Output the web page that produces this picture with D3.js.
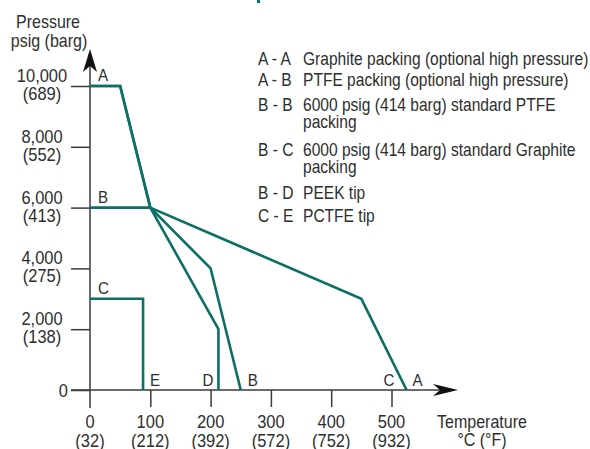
<!DOCTYPE html>
<html><head><meta charset="utf-8">
<script src="https://cdn.jsdelivr.net/npm/d3@7"></script>
<style>
body{margin:0;background:#fff;}
text{font-family:"Liberation Sans",Arial,sans-serif;fill:#2e2e2e;}
</style></head>
<body><svg id="c" width="590" height="449"></svg>
<script>
// ---- data ----
const xTicks = [0,100,200,300,400,500];
const xTickLabels = ["(32)","(212)","(392)","(572)","(752)","(932)"];
const yTicks = [0,2000,4000,6000,8000,10000];
const yTickLabels = ["","(138)","(275)","(413)","(552)","(689)"];
const curveAA = [[0,10000],[50,10000],[100,6000],[450,3000],[525,0]];
const curveAB = [[0,10000],[50,10000],[100,6000]];
const curveBB = [[0,6000],[100,6000],[200,4000],[250,0]];
const curveBD = [[100,6000],[213,2000],[213,0]];
const curveCE = [[0,3000],[88,3000],[88,0]];
const pointLabels = [
  {t:"A",x:0,y:10000,dx:8,dy:-5},{t:"B",x:0,y:6000,dx:8,dy:-5},{t:"C",x:0,y:3000,dx:8,dy:-5},
  {t:"E",x:88,y:0,dx:7,dy:-4},{t:"D",x:213,y:0,dx:-16,dy:-4},{t:"B",x:250,y:0,dx:7,dy:-4},
  {t:"C",x:525,y:0,dx:-23,dy:-4},{t:"A",x:525,y:0,dx:6,dy:-4}
];
const legendCodes = ["A - A","A - B","B - B","","B - C","","B - D","C - E"];
const legendTexts = ["Graphite packing (optional high pressure)","PTFE packing (optional high pressure)",
  "6000 psig (414 barg) standard PTFE","packing","6000 psig (414 barg) standard Graphite","packing","PEEK tip","PCTFE tip"];
const legendBaselines = [65,86,111,128,156,173,199,222];

const svg = d3.select("#c");
const x = d3.scaleLinear().domain([0,500]).range([90,391.5]);
const y = d3.scaleLinear().domain([0,10000]).range([390,86]);
const green = "#0b6f63", axc = "#3a3a3a";
const SX = 0.89;
function txt(px, py, s, size, anchor){
  return svg.append("text").attr("transform",`translate(${px},${py}) scale(${SX},1)`)
    .attr("text-anchor",anchor||"start").attr("font-size",size).text(s);
}

// partial title fragment at top
svg.append("rect").attr("x",257).attr("y",0).attr("width",3).attr("height",3).attr("fill",green);

// y ticks
const ya = d3.axisLeft(y).tickValues(yTicks).tickSize(19).tickFormat("");
const gy = svg.append("g").attr("transform","translate(90,0)").call(ya);
gy.select(".domain").remove();
gy.selectAll("line").attr("stroke",axc).attr("stroke-width",1.5);
// x ticks
const xa = d3.axisBottom(x).tickValues(xTicks.slice(1)).tickSize(17).tickFormat("");
const gx = svg.append("g").attr("transform","translate(0,390)").call(xa);
gx.select(".domain").remove();
gx.selectAll("line").attr("stroke",axc).attr("stroke-width",1.5);

// axis lines
svg.append("line").attr("x1",90).attr("y1",408).attr("x2",90).attr("y2",62).attr("stroke",axc).attr("stroke-width",1.5);
svg.append("line").attr("x1",71).attr("y1",390).attr("x2",445).attr("y2",390).attr("stroke",axc).attr("stroke-width",1.5);
svg.append("path").attr("d","M90,49 L97,72 L90,66 L83,72 Z").attr("fill","#111");
svg.append("path").attr("d","M458,390 L433,384 L440,390 L433,396 Z").attr("fill","#111");

// curves
const line = d3.line().x(d=>x(d[0])).y(d=>y(d[1]));
[curveAA,curveAB,curveBB,curveBD,curveCE].forEach(c=>{
  svg.append("path").attr("d",line(c)).attr("fill","none").attr("stroke",green)
    .attr("stroke-width",2.6).attr("stroke-linejoin","miter");
});

// y labels
yTicks.forEach((v,i)=>{
  if(v===0){
    txt(68, y(v)+7, "0", 18.5, "end");
  } else {
    txt(42, y(v)-4, d3.format(",")(v), 18.5, "middle");
    txt(42, y(v)+14, yTickLabels[i], 18.5, "middle");
  }
});
// x labels
xTicks.forEach((v,i)=>{
  txt(x(v), 428, String(v), 18.5, "middle");
  txt(x(v), 447, xTickLabels[i], 18.5, "middle");
});
// axis titles
txt(48, 28, "Pressure", 18, "middle");
txt(49, 47, "psig (barg)", 18, "middle");
txt(482, 428, "Temperature", 18, "middle");
txt(482, 446, "°C (°F)", 18, "middle");

// point labels
pointLabels.forEach(p=>{
  txt(x(p.x)+p.dx, y(p.y)+p.dy, p.t, 17);
});

// legend
legendBaselines.forEach((b,i)=>{
  if(legendCodes[i]) txt(258, b, legendCodes[i], 17.5);
  txt(303, b, legendTexts[i], 17.5);
});
</script></body></html>
